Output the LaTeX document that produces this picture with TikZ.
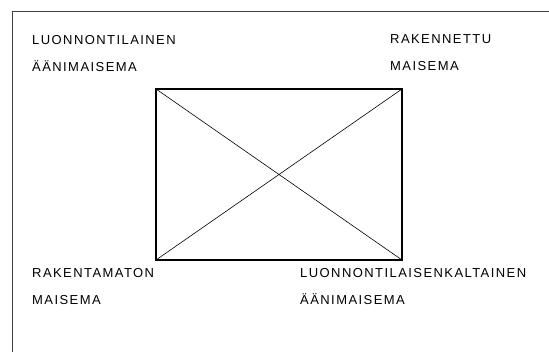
\documentclass[tikz,border=0pt]{standalone}
\usepackage{fontspec}
\setmainfont{Liberation Sans}
\usepackage{tikz}
\usetikzlibrary{positioning}

\tikzset{
    nimi/.style={
        anchor=north west,
        inner sep=0pt,
        align=left,
        font=\fontsize{13}{26.5}\selectfont\addfontfeature{LetterSpace=11}
    }
}

\begin{document}
\begin{tikzpicture}[x=1pt, y=-1pt]

    \useasboundingbox (0,0) rectangle (549,352);

    % Kehys
    \draw[black!75, line width=1pt] (12,352) -- (12,12) -- (549,12);

    % Nelikulmio
    \coordinate (vy) at (156,89);
    \coordinate (oy) at (402,89);
    \coordinate (va) at (156,260);
    \coordinate (oa) at (402,260);
    \draw[line width=1.1pt] (vy) rectangle (oa);

    % Lävistäjät
    \draw[line width=0.6pt] (vy) -- (oa);
    \draw[line width=0.6pt] (oy) -- (va);

    % Nimet
    \node[nimi] (luonnon) at (32,35.5) {LUONNONTILAINEN\\ÄÄNIMAISEMA};
    \node[nimi] (rakennettu) at (390,34.5) {RAKENNETTU\\MAISEMA};
    \node[nimi] (rakentamaton) at (32,268.5) {RAKENTAMATON\\MAISEMA};
    \node[nimi] (kaltainen) at (300,268.5) {LUONNONTILAISENKALTAINEN\\ÄÄNIMAISEMA};

\end{tikzpicture}
\end{document}
